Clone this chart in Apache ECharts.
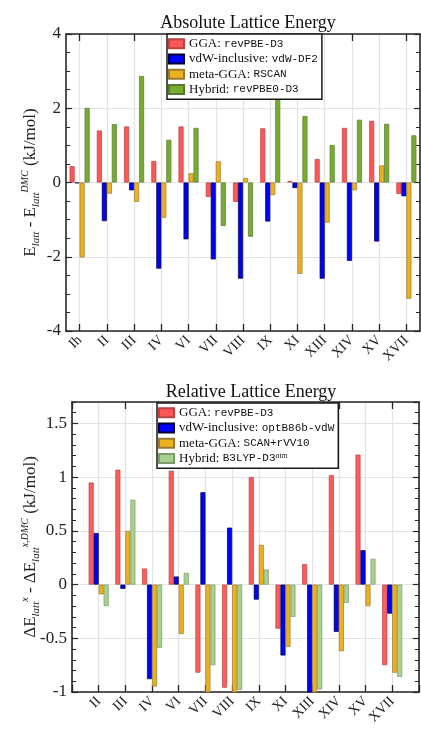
<!DOCTYPE html>
<html>
<head>
<meta charset="utf-8">
<script src="https://cdn.jsdelivr.net/npm/echarts@6/dist/echarts.min.js"></script>
<style>
  html, body { margin: 0; padding: 0; background: #fff; }
  #main { width: 421px; height: 731px; }
</style>
</head>
<body>
<div id="main"></div>
<script>
// absolute lattice energy, E_latt - E_latt^DMC (kJ/mol)
var absCats = ['Ih', 'II', 'III', 'IV', 'VI', 'VII', 'VIII', 'IX', 'XI', 'XIII', 'XIV', 'XV', 'XVII'];
var absGGA  = [0.44, 1.40, 1.51, 0.58, 1.51, -0.39, -0.52, 1.46, 0.04, 0.63, 1.47, 1.66, -0.31];
var absVdw  = [-0.02, -1.04, -0.21, -2.32, -1.53, -2.07, -2.59, -1.05, -0.15, -2.59, -2.11, -1.59, -0.37];
var absMeta = [-2.02, -0.30, -0.52, -0.95, 0.25, 0.57, 0.12, -0.34, -2.46, -1.08, -0.21, 0.46, -3.13];
var absHyb  = [2.01, 1.57, 2.87, 1.15, 1.47, -1.17, -1.46, 2.27, 1.79, 1.01, 1.69, 1.58, 1.27];

// relative lattice energy
var relCats = ['II', 'III', 'IV', 'VI', 'VII', 'VIII', 'IX', 'XI', 'XIII', 'XIV', 'XV', 'XVII'];
var relGGA  = [0.95, 1.07, 0.15, 1.06, -0.82, -0.96, 1.00, -0.41, 0.19, 1.02, 1.21, -0.75];
var relVdw  = [0.48, -0.04, -0.88, 0.075, 0.86, 0.53, -0.14, -0.66, -1.15, -0.44, 0.32, -0.27];
var relMeta = [-0.09, 0.50, -0.95, -0.46, -1.12, -1.10, 0.37, -0.58, -1.20, -0.62, -0.20, -0.82];
var relHyb  = [-0.20, 0.79, -0.59, 0.11, -0.75, -0.98, 0.14, -0.30, -0.975, -0.17, 0.24, -0.86];

var absNames = ['GGA: revPBE-D3', 'vdW-inclusive: vdW-DF2', 'meta-GGA: RSCAN', 'Hybrid: revPBE0-D3'];
var relNames = ['GGA: revPBE-D3', 'vdW-inclusive: optB86b-vdW', 'meta-GGA: SCAN+rVV10', 'Hybrid: B3LYP-D3atm'];

var SERIF = 'Liberation Serif';
var MONO = 'Liberation Mono';
var INK = '#262626';

// padded categories so the lower axis runs from 0 to 13
var relAxis = [''].concat(relCats, ['']);
function pad(a) { return ['-'].concat(a, ['-']); }

function legendText(name) {
  var i = name.indexOf(': ');
  var head = name.slice(0, i + 2);
  var tail = name.slice(i + 2);
  if (tail === 'B3LYP-D3atm') return '{s|' + head + '}{m|B3LYP-D3}{u|atm}';
  return '{s|' + head + '}{m|' + tail + '}';
}

var legendRich = {
  s: { fontFamily: SERIF, fontSize: 13, color: '#111' },
  m: { fontFamily: MONO, fontSize: 11, color: '#111' },
  u: { fontFamily: SERIF, fontSize: 8, fontStyle: 'italic', color: '#111', verticalAlign: 'top', padding: [0, 0, 6, 0] }
};

function bar(name, data, color, edge, xi, yi) {
  return {
    name: name, type: 'bar', data: data, xAxisIndex: xi, yAxisIndex: yi,
    barWidth: 5, barGap: '0%',
    itemStyle: { color: color, borderColor: edge, borderWidth: 0.7 }
  };
}

function catAxis(grid, cats, onBand, pos, labels) {
  return {
    gridIndex: grid, type: 'category', data: cats, boundaryGap: onBand, position: pos,
    axisLine: { show: true, onZero: false, lineStyle: { color: INK, width: 1.6 } },
    axisTick: { show: true, inside: true, alignWithLabel: true, length: 7, lineStyle: { color: INK, width: 1.3 } },
    axisLabel: labels ? { show: true, rotate: 45, interval: 0, margin: 7, fontFamily: SERIF, fontSize: 14, color: '#222' } : { show: false },
    splitLine: labels ? { show: true, alignWithLabel: true, interval: 0, lineStyle: { color: '#e2e2e2', width: 1.2 } } : { show: false }
  };
}

var chart = echarts.init(document.getElementById('main'));

var yName1 = '{t|E}{b|latt}{t| - E}{b|latt}{p|DMC}{t| (kJ/mol)}';
var yName2 = '{t|\u0394E}{b|latt}{p|x}{t| - \u0394E}{b|latt}{p|x,DMC}{t| (kJ/mol)}';
var nameRich = {
  t: { fontFamily: SERIF, fontSize: 17, color: '#222', lineHeight: 22 },
  b: { fontFamily: SERIF, fontSize: 11, fontStyle: 'italic', color: '#222', verticalAlign: 'bottom', lineHeight: 22, padding: [4, 0, 0, 0] },
  p: { fontFamily: SERIF, fontSize: 10, fontStyle: 'italic', color: '#222', verticalAlign: 'top', lineHeight: 22, padding: [0, 0, 4, 0] }
};

var yTop = {
  gridIndex: 0, type: 'value', min: -4, max: 4, interval: 2,
  axisLine: { show: true, lineStyle: { color: INK, width: 1.6 } },
  axisTick: { show: true, inside: true, length: 6, lineStyle: { color: INK, width: 1.2 } },
  minorTick: { show: true, splitNumber: 4, length: 4, lineStyle: { color: INK, width: 1 } },
  axisLabel: { margin: 5, fontFamily: SERIF, fontSize: 17, color: '#222' },
  splitLine: { show: true, lineStyle: { color: '#e2e2e2', width: 1.2 } },
  name: yName1, nameLocation: 'middle', nameGap: 24, nameMoveOverlap: false,
  nameTextStyle: { rich: nameRich }
};
var yTopR = {
  gridIndex: 0, type: 'value', min: -4, max: 4, interval: 2, position: 'right',
  axisLine: { show: true, lineStyle: { color: INK, width: 1.6 } },
  axisTick: { show: true, inside: true, length: 6, lineStyle: { color: INK, width: 1.2 } },
  minorTick: { show: true, splitNumber: 4, length: 4, lineStyle: { color: INK, width: 1 } },
  axisLabel: { show: false }, splitLine: { show: false }
};
var yBot = {
  gridIndex: 1, type: 'value', min: -1, max: 1.7, interval: 0.5,
  axisLine: { show: true, lineStyle: { color: INK, width: 1.6 } },
  axisTick: { show: true, inside: true, length: 6, lineStyle: { color: INK, width: 1.2 } },
  axisLabel: { margin: 5, fontFamily: SERIF, fontSize: 17, color: '#222', showMaxLabel: false },
  splitLine: { show: true, lineStyle: { color: '#e2e2e2', width: 1.2 } },
  name: yName2, nameLocation: 'middle', nameGap: 30, nameMoveOverlap: false,
  nameTextStyle: { rich: nameRich }
};
function fineTicks(pos) {
  return {
    gridIndex: 1, type: 'value', min: -1, max: 1.7, interval: 0.1, position: pos,
    axisLine: { show: false },
    axisTick: { show: true, inside: true, length: 4, lineStyle: { color: INK, width: 1 } },
    axisLabel: { show: false }, splitLine: { show: false }
  };
}
var yBotR = {
  gridIndex: 1, type: 'value', min: -1, max: 1.7, interval: 0.5, position: 'right',
  axisLine: { show: true, lineStyle: { color: INK, width: 1.6 } },
  axisTick: { show: true, inside: true, length: 6, lineStyle: { color: INK, width: 1.2 } },
  axisLabel: { show: false }, splitLine: { show: false }
};

var legendBase = {
  orient: 'vertical', itemWidth: 15, itemHeight: 9, itemGap: 2,
  padding: [3, 4, 3, 1], backgroundColor: '#fff', borderColor: '#1a1a1a', borderWidth: 1.5,
  selectedMode: false, icon: 'rect',
  textStyle: { fontFamily: SERIF, fontSize: 13, lineHeight: 13.3, rich: legendRich },
  formatter: legendText
};

var option = {
  animation: false,
  backgroundColor: '#fff',
  title: [
    { text: 'Absolute Lattice Energy', left: 243, top: 9, textAlign: 'center',
      textStyle: { fontFamily: SERIF, fontSize: 18, fontWeight: 'normal', color: '#111' } },
    { text: 'Relative Lattice Energy', left: 246, top: 378, textAlign: 'center',
      textStyle: { fontFamily: SERIF, fontSize: 18, fontWeight: 'normal', color: '#111' } }
  ],
  legend: [
    Object.assign({}, legendBase, { left: 167, top: 34, data: absNames }),
    Object.assign({}, legendBase, { left: 157, top: 403, data: relNames })
  ],
  grid: [
    { left: 66, top: 34, width: 354, height: 297 },
    { left: 72, top: 402, width: 348, height: 290 }
  ],
  xAxis: [
    catAxis(0, absCats, true, 'bottom', true),
    catAxis(0, absCats, true, 'top', false),
    catAxis(1, relAxis, false, 'bottom', true),
    catAxis(1, relAxis, false, 'top', false)
  ],
  yAxis: [yTop, yTopR, yBot, fineTicks('left'), yBotR, fineTicks('right')],
  series: [
    bar(absNames[0], absGGA, '#ff5656', '#b84444', 0, 0),
    bar(absNames[1], absVdw, '#0000ff', '#000033', 0, 0),
    bar(absNames[2], absMeta, '#edb120', '#9a7a30', 0, 0),
    bar(absNames[3], absHyb, '#77ac30', '#587a30', 0, 0),
    bar(relNames[0], pad(relGGA), '#ff5c5c', '#b84444', 2, 2),
    bar(relNames[1], pad(relVdw), '#0000ff', '#000033', 2, 2),
    bar(relNames[2], pad(relMeta), '#edb120', '#9a7a30', 2, 2),
    bar(relNames[3], pad(relHyb), '#a9d18e', '#7d9a6a', 2, 2)
  ]
};
chart.setOption(option);
</script>
</body>
</html>
